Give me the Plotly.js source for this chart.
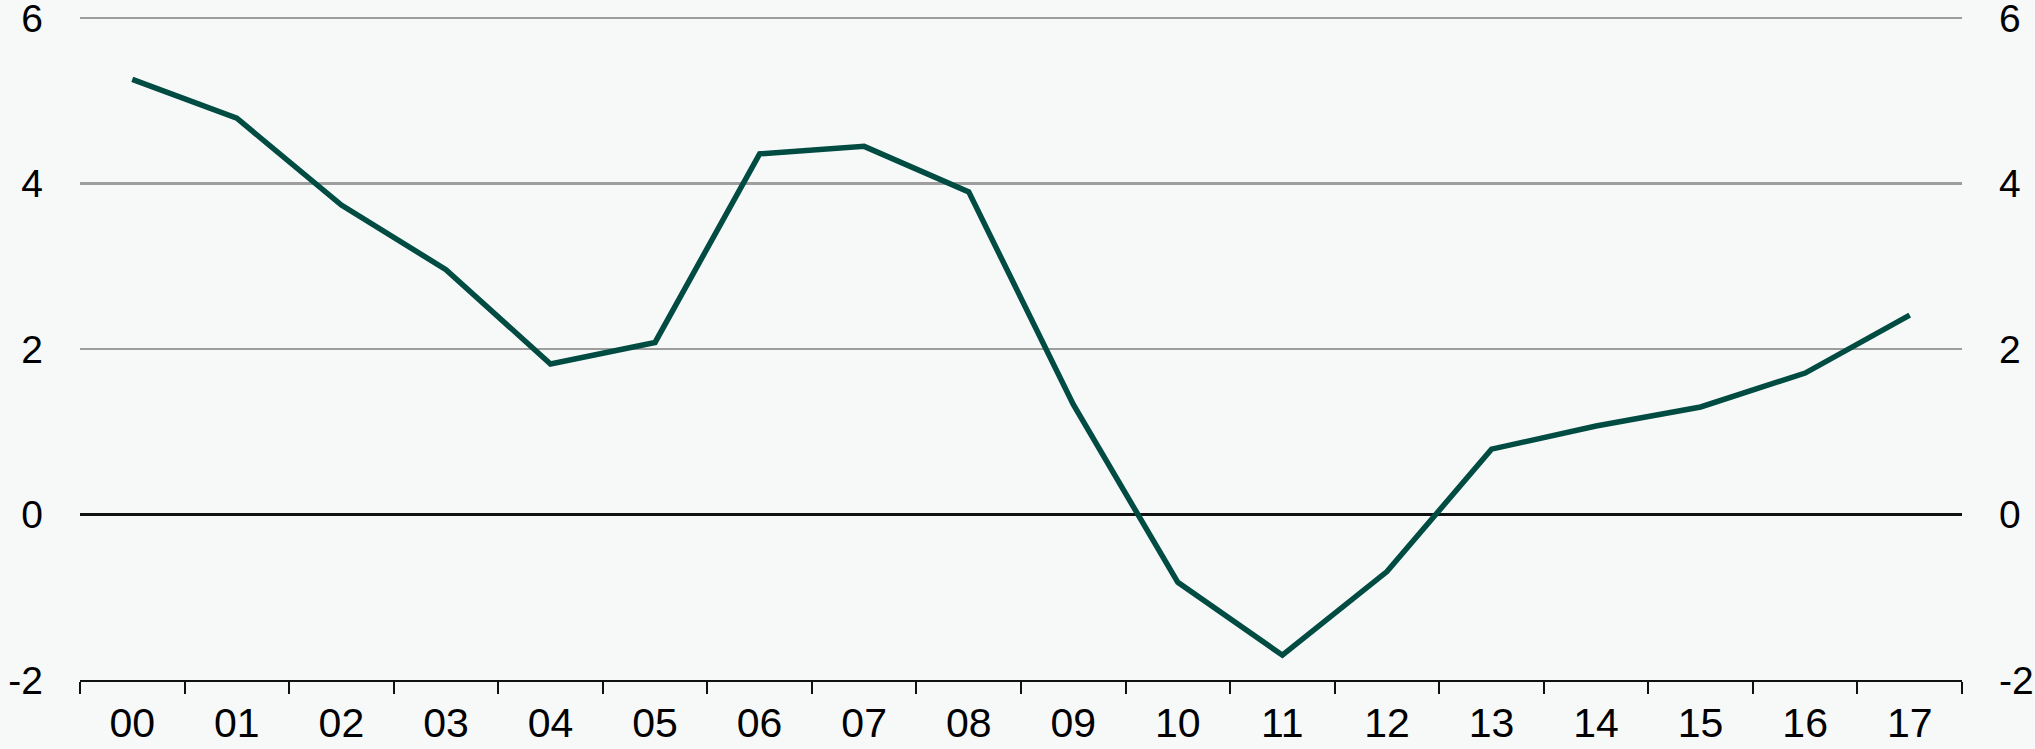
<!DOCTYPE html>
<html>
<head>
<meta charset="utf-8">
<script src="https://cdn.plot.ly/plotly-3.0.1.min.js"></script>
<style>
  html, body { margin: 0; padding: 0; background: #f7f9f9; }
  #chart { width: 2035px; height: 749px; }
</style>
</head>
<body>
<div id="chart"></div>
<script>
const years = ["00","01","02","03","04","05","06","07","08","09","10","11","12","13","14","15","16","17"];
const values = [5.26, 4.79, 3.74, 2.96, 1.82, 2.08, 4.36, 4.45, 3.90, 1.33, -0.82, -1.70, -0.69, 0.79, 1.07, 1.30, 1.71, 2.41];
const yTicks = [-2, 0, 2, 4, 6];

const bg = "#f7f9f9";
const fontFam = "Liberation Sans, Arial, sans-serif";
const yRange = [-2, 6.05];

const trace = {
  x: years,
  y: values,
  type: "scatter",
  mode: "lines",
  line: { color: "#004c42", width: 5.5 },
  hoverinfo: "skip",
  showlegend: false
};

// Same series on the mirrored right-hand axis, drawn transparent so that axis is rendered
const mirror = {
  x: years,
  y: values,
  yaxis: "y2",
  type: "scatter",
  mode: "lines",
  line: { color: "rgba(0,0,0,0)", width: 0 },
  hoverinfo: "skip",
  showlegend: false
};

const yTickCommon = {
  range: yRange,
  tickvals: yTicks,
  ticktext: yTicks.map(String),
  ticks: "",
  ticklabelstandoff: 36,
  ticklabeloverflow: "allow",
  tickfont: { family: fontFam, size: 39, color: "#000" },
  fixedrange: true
};

const layout = {
  width: 2035,
  height: 749,
  margin: { l: 80, r: 73, t: 14, b: 69, pad: 0 },
  paper_bgcolor: bg,
  plot_bgcolor: bg,
  showlegend: false,
  xaxis: {
    type: "category",
    range: [-0.5, 17.5],
    tickson: "boundaries",
    ticks: "outside",
    ticklen: 12,
    tickwidth: 2,
    tickcolor: "#111",
    showline: true,
    linecolor: "#111",
    linewidth: 2,
    showgrid: false,
    zeroline: false,
    ticklabelstandoff: 6,
    ticklabeloverflow: "allow",
    tickfont: { family: fontFam, size: 41, color: "#000" },
    fixedrange: true
  },
  yaxis: Object.assign({}, yTickCommon, {
    showgrid: true,
    gridcolor: "#9e9e9e",
    gridwidth: 2.5,
    zeroline: true,
    zerolinecolor: "#111",
    zerolinewidth: 2.5,
    showline: false
  }),
  yaxis2: Object.assign({}, yTickCommon, {
    overlaying: "y",
    side: "right",
    showgrid: false,
    zeroline: false,
    showline: false
  })
};

Plotly.newPlot("chart", [trace, mirror], layout, { staticPlot: true, displayModeBar: false });
</script>
</body>
</html>
